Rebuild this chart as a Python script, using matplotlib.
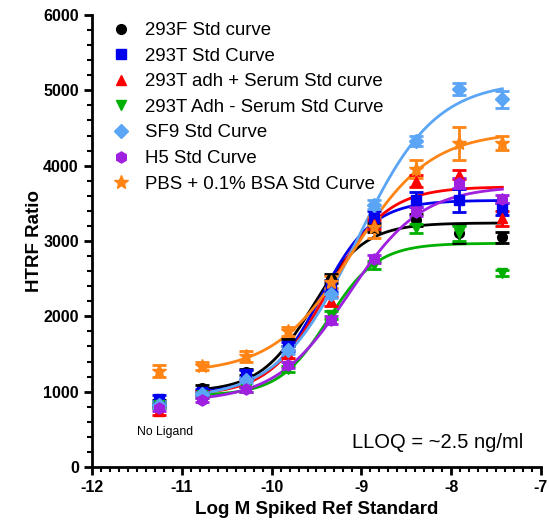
import numpy as np
import matplotlib.pyplot as plt
from matplotlib.ticker import MultipleLocator
from matplotlib.lines import Line2D

plt.rcParams['font.family'] = ['Liberation Sans', 'DejaVu Sans']
plt.rcParams['axes.unicode_minus'] = False

# log M of the 3-fold dilution series, plus the no-ligand well
logM = [-10.77, -10.29, -9.82, -9.34, -8.86, -8.39, -7.91, -7.43]
noLig_x = -11.25

names = ["293F Std curve", "293T Std Curve", "293T adh + Serum Std curve",
         "293T Adh - Serum Std Curve", "SF9 Std Curve", "H5 Std Curve",
         "PBS + 0.1% BSA Std Curve"]
colors = ["#000000", "#0000ee", "#ff0000", "#00b000", "#5aa5f5", "#a020e0", "#ff8414"]
markers = ["o", "s", "^", "v", "D", "h", "*"]

#HTRF ratio means at each concentration
f293 = [1050, 1260, 1650, 2500, 3180, 3280, 3100, 3050]
t293 = [1000, 1230, 1600, 2400, 3300, 3550, 3540, 3430]
adhP = [980, 1100, 1500, 2200, 3220, 3800, 3880, 3300]
adhM = [950, 1030, 1300, 2020, 2680, 3170, 3100, 2570]
sf9 = [970, 1150, 1550, 2300, 3480, 4330, 5020, 4880]
h5 = [890, 1030, 1350, 1950, 2760, 3390, 3770, 3560]
pbs = [1340, 1470, 1800, 2450, 3180, 3960, 4300, 4300]
means = [f293, t293, adhP, adhM, sf9, h5, pbs]

#SEM for each point
errs = [[40, 40, 50, 60, 60, 80, 130, 70],
        [40, 60, 60, 80, 100, 100, 150, 80],
        [30, 40, 50, 60, 60, 80, 60, 100],
        [30, 30, 40, 50, 50, 60, 100, 40],
        [30, 40, 50, 60, 60, 70, 80, 110],
        [30, 30, 40, 50, 50, 60, 60, 50],
        [50, 70, 60, 80, 140, 120, 220, 90]]

#no ligand wells
noLig = [850, 900, 740, 820, 830, 790, 1270]
noLig_err = [40, 60, 50, 40, 40, 40, 80]

#4PL fit parameters: bottom, top, logEC50, hill slope
bottom = [1000, 980, 950, 950, 900, 870, 1250]
top = [3240, 3540, 3720, 2970, 5120, 3730, 4450]
logEC50 = [-9.55, -9.45, -9.375, -9.37, -9.05, -9.14, -9.1]
hill = [1.5, 1.5, 1.34, 1.58, 1.0, 1.07, 1.0]

fig = plt.figure(figsize=(5.49, 5.23), dpi=100)
ax = fig.add_axes([0.1676, 0.107, 0.8178, 0.8643])

xc = np.linspace(logM[0], logM[-1], 300)
for i in range(len(names)):
    yc = bottom[i] + (top[i] - bottom[i]) / (1 + 10 ** ((logEC50[i] - xc) * hill[i]))
    ax.plot(xc, yc, color=colors[i], lw=2, zorder=2)

handles = []
for i in range(len(names)):
    ms = 10 if markers[i] == "*" else 7
    if markers[i] == "h":
        ms = 8
    ax.errorbar(logM, means[i], yerr=errs[i], fmt=markers[i], color=colors[i],
                ms=ms, elinewidth=2, capsize=5, capthick=2, zorder=3)
    ax.errorbar([noLig_x], [noLig[i]], yerr=[noLig_err[i]], fmt=markers[i],
                color=colors[i], ms=ms, elinewidth=2, capsize=5, capthick=2, zorder=3)
    handles.append(Line2D([], [], ls="none", marker=markers[i], color=colors[i],
                          ms=ms, label=names[i]))

ax.set_xlim(-12, -7)
ax.set_ylim(0, 6000)
ax.xaxis.set_major_locator(MultipleLocator(1))
ax.xaxis.set_minor_locator(MultipleLocator(0.1))
ax.yaxis.set_major_locator(MultipleLocator(1000))
ax.yaxis.set_minor_locator(MultipleLocator(200))
for s in ["top", "right"]:
    ax.spines[s].set_visible(False)
for s in ["left", "bottom"]:
    ax.spines[s].set_linewidth(2)
ax.tick_params(which="major", length=6, width=2, labelsize=11.5)
ax.tick_params(which="minor", length=3.5, width=1.5)
for lab in ax.get_xticklabels() + ax.get_yticklabels():
    lab.set_fontweight("bold")
ax.set_xlabel("Log M Spiked Ref Standard", fontsize=13.5, fontweight="bold", labelpad=4)
ax.set_ylabel("HTRF Ratio", fontsize=13.5, fontweight="bold", labelpad=0)

ax.text(-11.19, 465, "No Ligand", fontsize=8.8, ha="center", va="center")
ax.text(-7.2, 330, "LLOQ = ~2.5 ng/ml", fontsize=14.5, ha="right", va="center")

ax.legend(handles=handles, loc="upper left", bbox_to_anchor=(0.02, 1.005), frameon=False,
          fontsize=13.4, labelspacing=0.46, handletextpad=0.65,
          borderaxespad=0.3, borderpad=0.2, handlelength=1.2)

fig.savefig("out.png", dpi=100)
